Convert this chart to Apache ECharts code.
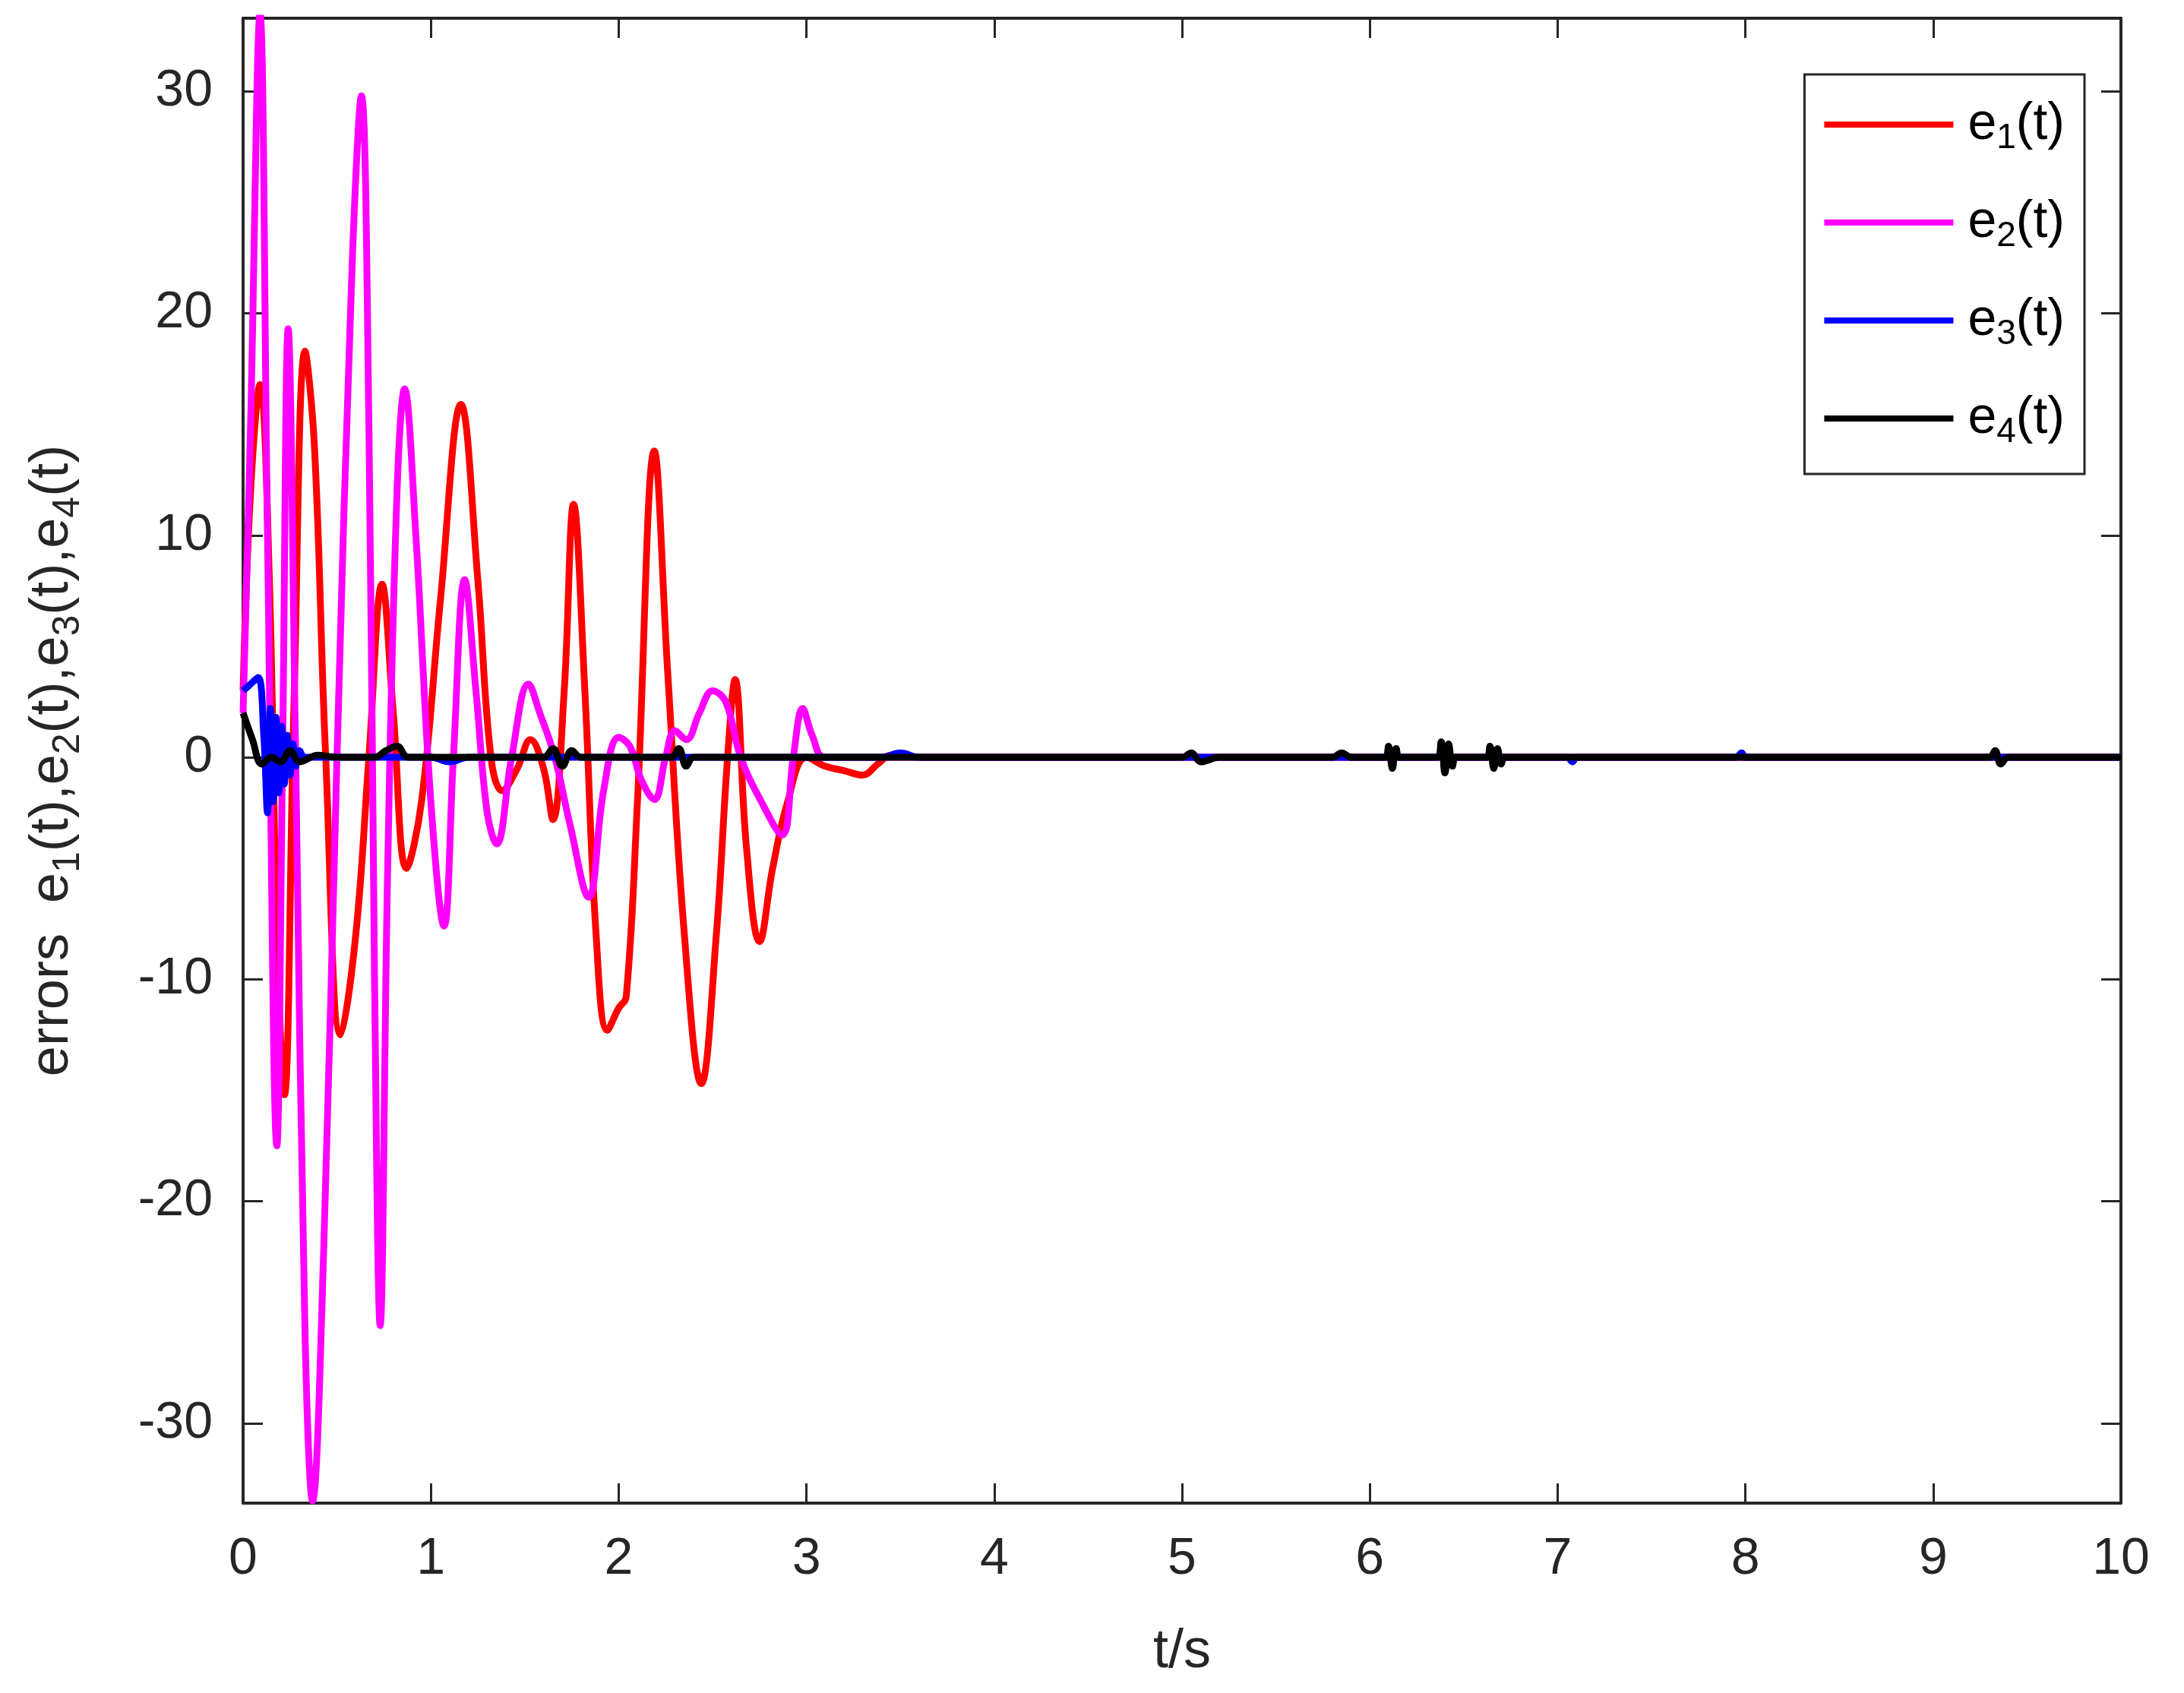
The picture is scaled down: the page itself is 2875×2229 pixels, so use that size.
<!DOCTYPE html>
<html>
<head>
<meta charset="utf-8">
<script src="https://cdn.jsdelivr.net/npm/echarts@6/dist/echarts.min.js"></script>
<style>html,body{margin:0;padding:0;background:#fff}#chart{width:2875px;height:2229px}</style>
</head>
<body>
<div id="chart"></div>
<script>
// error curves as [t, value]
const e1 = [[0,3],[0.04,12],[0.09,16.8],[0.14,8],[0.18,-8],[0.22,-15.2],[0.27,2],[0.33,18.3],[0.38,14],[0.44,0],[0.52,-12.5],[0.6,-8],[0.67,0],[0.74,7.8],[0.8,2],[0.87,-5],[0.95,-2],[1.05,7],[1.16,15.9],[1.25,8],[1.32,0],[1.38,-1.5],[1.46,-0.5],[1.53,0.8],[1.6,-0.5],[1.65,-2.8],[1.71,3],[1.76,11.4],[1.82,3],[1.88,-8],[1.94,-12.3],[2.0,-11.3],[2.04,-10.8],[2.1,-2],[2.19,13.8],[2.26,4],[2.35,-8],[2.44,-14.7],[2.52,-8],[2.58,0],[2.62,3.5],[2.68,-4],[2.75,-8.3],[2.82,-5],[2.9,-2],[3.0,0],[3.1,-0.4],[3.2,-0.6],[3.3,-0.8],[3.38,-0.3],[3.45,0.1],[3.6,0],[10,0]];
const e2 = [[0,2],[0.04,15],[0.09,33.5],[0.13,10],[0.18,-17.5],[0.21,0],[0.24,19.3],[0.28,0],[0.33,-26],[0.37,-33.5],[0.43,-22],[0.5,0],[0.58,22],[0.63,29.8],[0.67,15],[0.7,-10],[0.73,-25.6],[0.77,-5],[0.82,12],[0.86,16.6],[0.92,10],[1.0,-2],[1.07,-7.6],[1.12,0],[1.18,8],[1.24,3],[1.3,-2.5],[1.35,-3.9],[1.43,0],[1.52,3.3],[1.58,2],[1.66,0],[1.74,-3],[1.84,-6.3],[1.92,-1.5],[2.0,0.9],[2.06,0.5],[2.12,-1],[2.19,-1.9],[2.25,0],[2.3,1.2],[2.36,0.8],[2.43,2],[2.5,3],[2.57,2.5],[2.65,0],[2.76,-2],[2.87,-3.5],[2.93,0],[2.98,2.2],[3.03,1],[3.1,0],[3.5,0],[10,0]];
const e3 = [[0,3],[0.04,3.3],[0.08,3.6],[0.11,1],[0.13,-2.5],[0.145,2.2],[0.16,-2],[0.175,1.8],[0.19,-1.6],[0.205,1.4],[0.22,-1.2],[0.235,1],[0.25,-0.8],[0.265,0.6],[0.28,-0.4],[0.3,0.3],[0.33,0],[1.0,0],[1.1,-0.2],[1.2,0],[3.4,0],[3.5,0.2],[3.6,0],[7.05,0],[7.08,-0.2],[7.1,0],[7.95,0],[7.98,0.2],[8.0,0],[10,0]];
const e4 = [[0,2],[0.05,0.8],[0.1,-0.3],[0.15,0],[0.2,-0.2],[0.25,0.3],[0.3,-0.2],[0.4,0.1],[0.5,0],[0.7,0],[0.76,0.3],[0.82,0.5],[0.88,0],[1.6,0],[1.65,0.4],[1.7,-0.4],[1.75,0.3],[1.8,0],[2.28,0],[2.32,0.4],[2.36,-0.4],[2.4,0],[5.0,0],[5.05,0.2],[5.1,-0.2],[5.2,0],[5.8,0],[5.85,0.2],[5.9,0],[6.08,0],[6.1,0.5],[6.12,-0.5],[6.14,0.4],[6.16,0],[6.36,0],[6.38,0.7],[6.4,-0.7],[6.42,0.6],[6.44,-0.4],[6.46,0],[6.62,0],[6.64,0.5],[6.66,-0.5],[6.68,0.4],[6.7,-0.3],[6.72,0],[9.3,0],[9.33,0.3],[9.36,-0.3],[9.4,0],[10,0]];
const names = ['e{s|1}(t)', 'e{s|2}(t)', 'e{s|3}(t)', 'e{s|4}(t)'];
const colors = ['#ff0000', '#ff00ff', '#0000ff', '#000000'];
const yTicks = [-30, -20, -10, 0, 10, 20, 30];

const chart = echarts.init(document.getElementById('chart'));
const font = 'Liberation Sans';
const axisColor = '#262626';
const tick = { show: true, inside: true, length: 26, lineStyle: { color: axisColor, width: 3 } };
const line = { show: true, onZero: false, lineStyle: { color: axisColor, width: 4 } };

function mkSeries(data, i) {
  return { name: names[i], type: 'line', data: data, showSymbol: false, smooth: 0.4,
    lineStyle: { color: colors[i], width: 9 }, itemStyle: { color: colors[i] }, z: 2 + i };
}

chart.setOption({
  backgroundColor: '#fff',
  animation: false,
  grid: { left: 320, right: 83, top: 24, bottom: 250 },
  legend: {
    orient: 'vertical', right: 131, top: 98, padding: [32, 26, 32, 26],
    backgroundColor: '#fff', borderColor: axisColor, borderWidth: 3,
    itemWidth: 170, itemHeight: 8, itemGap: 54,
    textStyle: { fontFamily: font, fontSize: 68, color: '#000', padding: [0, 0, 0, 14],
      rich: { s: { fontSize: 46, verticalAlign: 'bottom', padding: [36, 0, 0, 0] } } },
    data: names.map((n, i) => ({ name: n, icon: 'rect', itemStyle: { color: colors[i] } }))
  },
  xAxis: [
    { type: 'value', min: 0, max: 10, interval: 1, name: 't/s', nameLocation: 'middle', nameGap: 160,
      nameTextStyle: { fontFamily: font, fontSize: 72, color: '#262626' },
      axisLine: line, axisTick: tick, splitLine: { show: false },
      axisLabel: { fontFamily: font, fontSize: 68, color: '#262626', margin: 40 } },
    { type: 'value', position: 'top', min: 0, max: 10, interval: 1,
      axisLine: line, axisTick: tick, axisLabel: { show: false }, splitLine: { show: false } }
  ],
  yAxis: [
    { type: 'value', min: -33.6, max: 33.3,
      name: 'errors  e{s|1}(t),e{s|2}(t),e{s|3}(t),e{s|4}(t)', nameLocation: 'middle', nameGap: 205, nameRotate: 90,
      nameTextStyle: { fontFamily: font, fontSize: 72, color: '#262626', rich: { s: { fontSize: 50, padding: [42, 0, 0, 0] } } },
      axisLine: line,
      axisTick: Object.assign({ customValues: yTicks }, tick), splitLine: { show: false },
      axisLabel: { customValues: yTicks, fontFamily: font, fontSize: 68, color: '#262626', margin: 40 } },
    { type: 'value', position: 'right', min: -33.6, max: 33.3,
      axisLine: line,
      axisTick: Object.assign({ customValues: yTicks }, tick), axisLabel: { show: false }, splitLine: { show: false } }
  ],
  series: [e1, e2, e3, e4].map(mkSeries)
});
</script>
</body>
</html>
